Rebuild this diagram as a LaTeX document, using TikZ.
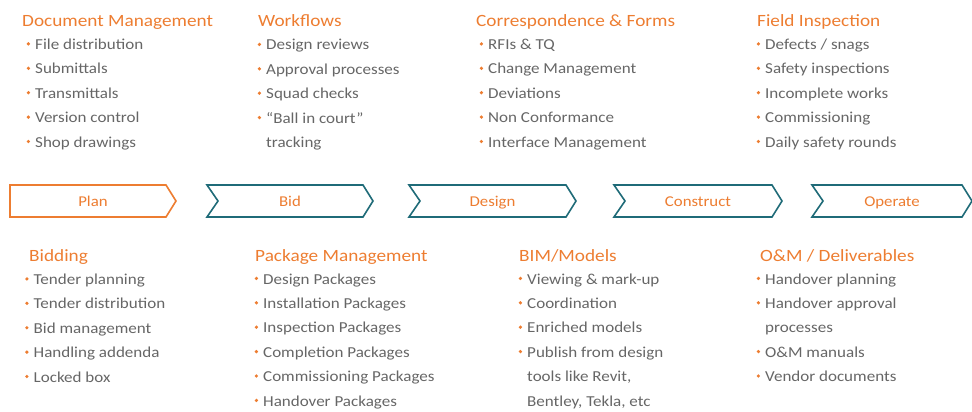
\documentclass[tikz,border=0pt]{standalone}
\usepackage{fontspec}
\setmainfont[FakeStretch=1.12]{Carlito}
\definecolor{orng}{HTML}{ED7D31}
\definecolor{tealc}{HTML}{1F6B78}
\definecolor{txtgray}{HTML}{666666}
\tikzset{
  head/.style={font=\fontsize{17.2}{20}\selectfont, text=orng, inner sep=0pt, anchor=base west},
  itm/.style={font=\fontsize{15.2}{16}\selectfont, text=txtgray, inner sep=0pt, anchor=base west},
  chev/.style={draw=tealc, line width=1.6pt, line join=miter, fill=white},
  chevfirst/.style={draw=orng, line width=1.6pt, line join=miter, fill=white},
  chevlabel/.style={font=\fontsize{15}{16}\selectfont, text=orng, inner sep=0pt, anchor=base}
}
\newcommand\featcol[6]{%
  \node[head] (#1) at (#2,#3) {#4};
  \foreach \k/\t [count=\i from 0] in {#6} {
    \node[itm] (#1-\i) at (#5, #3+23+\i*24.4) {\t};
    \ifnum\k=1 \fill[orng] (#5-6.6, #3+23+\i*24.4-5.6) circle (1.8pt);\fi
  }
}
\begin{document}
\begin{tikzpicture}[x=1pt,y=-1pt]
\useasboundingbox (0,0) rectangle (972,412);
% chevrons
\draw[chevfirst] (10,185) -- (166,185) -- (176,201) -- (166,217) -- (10,217) -- cycle;
\node[chevlabel] (plan) at (93,206.3) {Plan};
\foreach \L/\R/\name/\lab in {207/373/bid/Bid, 409/576/design/Design, 614/782/construct/Construct, 812/972/operate/Operate} {
  \draw[chev] (\L,185) -- (\R-10,185) -- (\R,201) -- (\R-10,217) -- (\L,217) -- (\L+11,201) -- cycle;
  \node[chevlabel] (\name) at ({(\L+\R)/2},206.3) {\lab};
}
% top columns
\featcol{docm}{22}{26.5}{Document Management}{35}{1/File distribution, 1/Submittals, 1/Transmittals, 1/Version control, 1/Shop drawings}
\featcol{work}{258}{27}{Workflows}{266}{1/Design reviews, 1/Approval processes, 1/Squad checks, 1/{“Ball in court”}, 0/tracking}
\featcol{corr}{476}{26.5}{Correspondence \& Forms}{488}{1/RFIs \& TQ, 1/Change Management, 1/Deviations, 1/Non Conformance, 1/Interface Management}
\featcol{field}{757}{26.5}{Field Inspection}{765}{1/{Defects / snags}, 1/Safety inspections, 1/Incomplete works, 1/Commissioning, 1/Daily safety rounds}
% bottom columns
\featcol{bidd}{29}{261.5}{Bidding}{33.5}{1/Tender planning, 1/Tender distribution, 1/Bid management, 1/Handling addenda, 1/Locked box}
\featcol{pack}{255}{261}{Package Management}{263}{1/Design Packages, 1/Installation Packages, 1/Inspection Packages, 1/Completion Packages, 1/Commissioning Packages, 1/Handover Packages}
\featcol{bim}{519}{261}{BIM/Models}{527}{1/Viewing \& mark-up, 1/Coordination, 1/Enriched models, 1/Publish from design, 0/{tools like Revit,}, 0/{Bentley, Tekla, etc}}
\featcol{om}{760}{261}{O\&M / Deliverables}{765}{1/Handover planning, 1/Handover approval, 0/processes, 1/O\&M manuals, 1/Vendor documents}
\end{tikzpicture}
\end{document}
